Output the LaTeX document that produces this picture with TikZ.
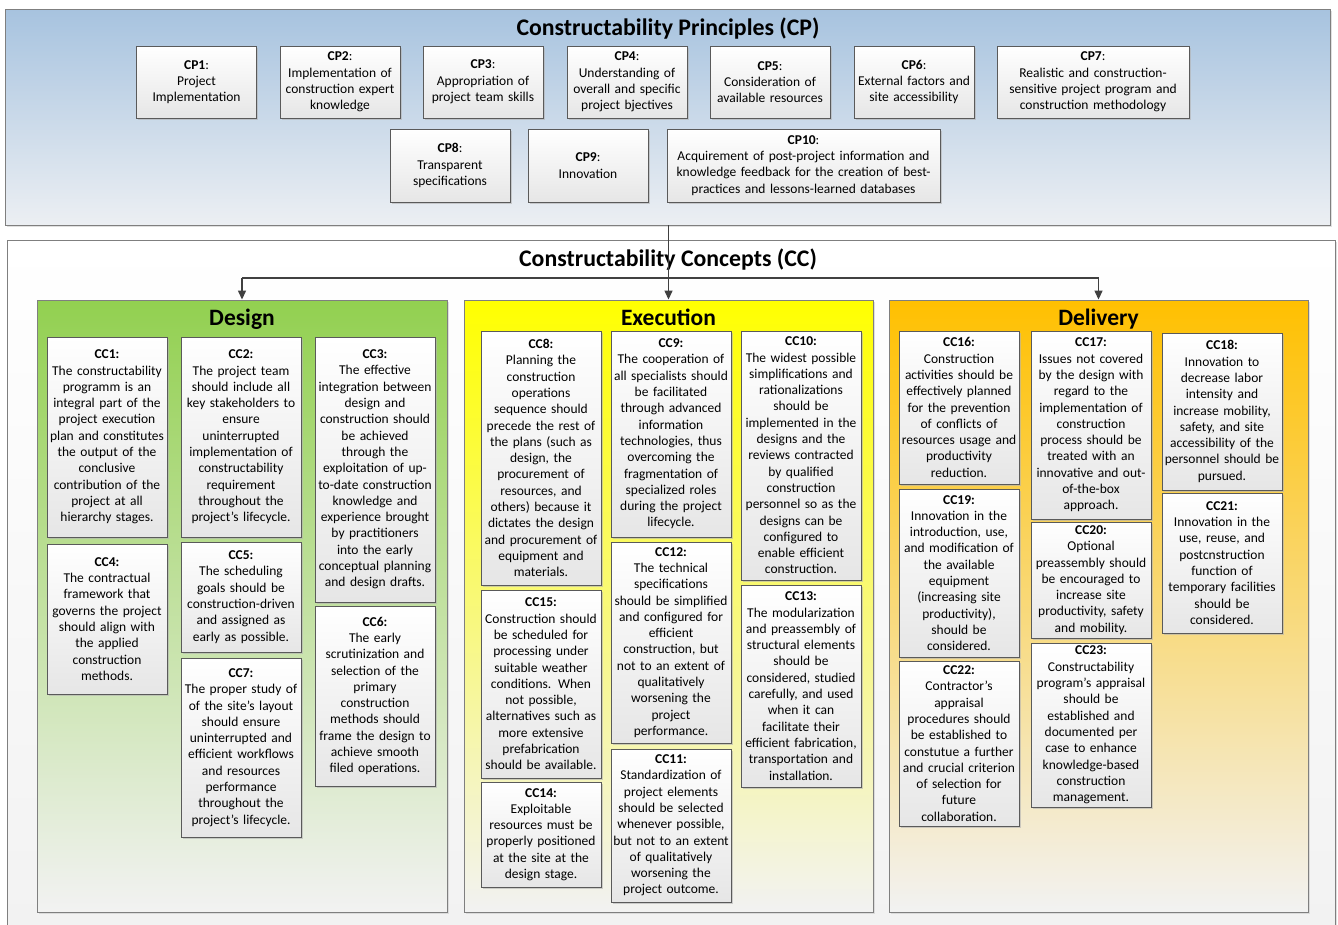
\documentclass[tikz,border=0pt]{standalone}
\usepackage{fontspec}
\setmainfont{Carlito}
\usetikzlibrary{arrows.meta,shadows}
\definecolor{linegray}{HTML}{404040}
\definecolor{boxborder}{HTML}{5A5A5A}
\definecolor{panelborder}{HTML}{7F7F7F}
\definecolor{cptop}{HTML}{A7C3DF}
\definecolor{cpbot}{HTML}{ECEFF3}
\definecolor{greentop}{HTML}{92D050}
\definecolor{yellowtop}{HTML}{FFFF00}
\definecolor{orangetop}{HTML}{FFC000}
\definecolor{panelbot}{HTML}{F2F2F2}
\definecolor{boxbot}{HTML}{E6E6E6}
\tikzset{
  ccbox/.style={draw=boxborder, line width=0.9pt, top color=white, bottom color=boxbot,
    drop shadow={shadow xshift=1.5pt, shadow yshift=-1.5pt, fill=black!30, opacity=0.6},
    minimum width=120pt, text width=118pt, inner sep=1pt, align=center,
    font=\fontsize{13.5pt}{16.3pt}\selectfont},
  panel/.style={draw=panelborder, line width=0.9pt,
    drop shadow={shadow xshift=1.5pt, shadow yshift=-1.5pt, fill=black!20, opacity=0.6}},
  ptitle/.style={anchor=base, font=\fontsize{23.8pt}{26pt}\selectfont\bfseries},
  ctitle/.style={anchor=base, font=\fontsize{23.5pt}{26pt}\selectfont\bfseries},
  conn/.style={draw=linegray, line width=1.3pt, -{Triangle[width=8pt,length=9pt]}},
  plain/.style={draw=linegray, line width=1.3pt}
}
\begin{document}
\begin{tikzpicture}[x=1pt,y=-1pt]
\useasboundingbox (0,0) rectangle (1338,924);
% panels
\node[panel, top color=cptop, bottom color=cpbot, minimum width=1325pt, minimum height=216pt] (cpp) at (667.5,117) {};
\node[panel, top color=white, bottom color=panelbot, minimum width=1328pt, minimum height=690pt] (ccp) at (671,585) {};
\node[panel, top color=greentop, bottom color=panelbot, minimum width=410pt, minimum height=612pt] (des) at (242,606) {};
\node[panel, top color=yellowtop, bottom color=panelbot, minimum width=409pt, minimum height=612pt] (exe) at (668.5,606) {};
\node[panel, top color=orangetop, bottom color=panelbot, minimum width=419pt, minimum height=612pt] (del) at (1098.5,606) {};
% titles
\node[ptitle] (cptitle) at (668,35) {Constructability Principles (CP)};
\node[ptitle] (cctitle) at (668,266) {Constructability Concepts (CC)};
\node[ctitle] (destitle) at (242,325) {Design};
\node[ctitle] (exetitle) at (668.5,325) {Execution};
\node[ctitle] (deltitle) at (1098.5,325) {Delivery};
% CP boxes
\node[ccbox, minimum height=72pt] (cp1) at (196.5,82) {\textbf{CP1}:\\Project\\Implementation};
\node[ccbox, minimum height=72pt] (cp2) at (340,82) {\textbf{CP2}:\\Implementation of\\construction expert\\knowledge};
\node[ccbox, minimum height=72pt] (cp3) at (483,82) {\textbf{CP3}:\\Appropriation of\\project team skills};
\node[ccbox, minimum height=72pt] (cp4) at (627,82) {\textbf{CP4}:\\Understanding of\\overall and specific\\project bjectives};
\node[ccbox, minimum height=72pt] (cp5) at (770,82) {\textbf{CP5}:\\Consideration of\\available resources};
\node[ccbox, minimum height=72pt] (cp6) at (914,82) {\textbf{CP6}:\\External factors and\\site accessibility};
\node[ccbox, minimum height=72pt, minimum width=192pt, text width=190pt] (cp7) at (1093,82) {\textbf{CP7}:\\Realistic and construction-\\sensitive project program and\\construction methodology};
\node[ccbox, minimum height=73pt] (cp8) at (450,165.5) {\textbf{CP8}:\\Transparent\\specifications};
\node[ccbox, minimum height=73pt] (cp9) at (588,165.5) {\textbf{CP9}:\\Innovation};
\node[ccbox, minimum height=73pt, minimum width=273pt, text width=271pt] (cp10) at (803.5,165.5) {\textbf{CP10}:\\Acquirement of post-project information and\\knowledge feedback for the creation of best-\\practices and lessons-learned databases};
% Design
\node[ccbox, minimum height=200pt] (cc1) at (107,437) {\textbf{CC1:}\\The constructability\\programm is an\\integral part of the\\project execution\\plan and constitutes\\the output of the\\conclusive\\contribution of the\\project at all\\hierarchy stages.};
\node[ccbox, minimum height=200pt] (cc2) at (241,437) {\textbf{CC2:}\\The project team\\should include all\\key stakeholders to\\ensure\\uninterrupted\\implementation of\\constructability\\requirement\\throughout the\\project’s lifecycle.};
\node[ccbox, minimum height=265pt] (cc3) at (375,469.5) {\textbf{CC3:}\\The effective\\integration between\\design and\\construction should\\be achieved\\through the\\exploitation of up-\\to-date construction\\knowledge and\\experience brought\\by practitioners\\into the early\\conceptual planning\\and design drafts.};
\node[ccbox, minimum height=150pt] (cc4) at (107,619) {\textbf{CC4:}\\The contractual\\framework that\\governs the project\\should align with\\the applied\\construction\\methods.};
\node[ccbox, minimum height=110pt] (cc5) at (241,597) {\textbf{CC5:}\\The scheduling\\goals should be\\construction-driven\\and assigned as\\early as possible.};
\node[ccbox, minimum height=180pt] (cc6) at (375,696) {\textbf{CC6:}\\The early\\scrutinization and\\selection of the\\primary\\construction\\methods should\\frame the design to\\achieve smooth\\filed operations.};
\node[ccbox, minimum height=179pt] (cc7) at (241,747.5) {\textbf{CC7:}\\The proper study of\\of the site’s layout\\should ensure\\uninterrupted and\\efficient workflows\\and resources\\performance\\throughout the\\project’s lifecycle.};
% Execution
\node[ccbox, minimum height=254pt] (cc8) at (541,458) {\textbf{CC8:}\\Planning the\\construction\\operations\\sequence should\\precede the rest of\\the plans (such as\\design, the\\procurement of\\resources, and\\others) because it\\dictates the design\\and procurement of\\equipment and\\materials.};
\node[ccbox, minimum height=206pt] (cc9) at (671,434) {\textbf{CC9:}\\The cooperation of\\all specialists should\\be facilitated\\through advanced\\information\\technologies, thus\\overcoming the\\fragmentation of\\specialized roles\\during the project\\lifecycle.};
\node[ccbox, minimum height=249pt] (cc10) at (801,455.5) {\textbf{CC10:}\\The widest possible\\simplifications and\\rationalizations\\should be\\implemented in the\\designs and the\\reviews contracted\\by qualified\\construction\\personnel so as the\\designs can be\\configured to\\enable efficient\\construction.};
\node[ccbox, minimum height=201pt] (cc12) at (671,642.5) {\textbf{CC12:}\\The technical\\specifications\\should be simplified\\and configured for\\efficient\\construction, but\\not to an extent of\\qualitatively\\worsening the\\project\\performance.};
\node[ccbox, minimum height=188pt] (cc15) at (541,684) {\textbf{CC15:}\\Construction should\\be scheduled for\\processing under\\suitable weather\\conditions. When\\not possible,\\alternatives such as\\more extensive\\prefabrication\\should be available.};
\node[ccbox, minimum height=202pt] (cc13) at (801,686) {\textbf{CC13:}\\The modularization\\and preassembly of\\structural elements\\should be\\considered, studied\\carefully, and used\\when it can\\facilitate their\\efficient fabrication,\\transportation and\\installation.};
\node[ccbox, minimum height=105pt] (cc14) at (541,834.5) {\textbf{CC14:}\\Exploitable\\resources must be\\properly positioned\\at the site at the\\design stage.};
\node[ccbox, minimum height=153pt] (cc11) at (671,825.5) {\textbf{CC11:}\\Standardization of\\project elements\\should be selected\\whenever possible,\\but not to an extent\\of qualitatively\\worsening the\\project outcome.};
% Delivery
\node[ccbox, minimum height=153pt] (cc16) at (959,407.5) {\textbf{CC16:}\\Construction\\activities should be\\effectively planned\\for the prevention\\of conflicts of\\resources usage and\\productivity\\reduction.};
\node[ccbox, minimum height=188pt] (cc17) at (1091,425) {\textbf{CC17:}\\Issues not covered\\by the design with\\regard to the\\implementation of\\construction\\process should be\\treated with an\\innovative and out-\\of-the-box\\approach.};
\node[ccbox, minimum height=157pt] (cc18) at (1222,411.5) {\textbf{CC18:}\\Innovation to\\decrease labor\\intensity and\\increase mobility,\\safety, and site\\accessibility of the\\personnel should be\\pursued.};
\node[ccbox, minimum height=168pt] (cc19) at (959,573) {\textbf{CC19:}\\Innovation in the\\introduction, use,\\and modification of\\the available\\equipment\\(increasing site\\productivity),\\should be\\considered.};
\node[ccbox, minimum height=116pt] (cc20) at (1091,580) {\textbf{CC20:}\\Optional\\preassembly should\\be encouraged to\\increase site\\productivity, safety\\and mobility.};
\node[ccbox, minimum height=140pt] (cc21) at (1222,563) {\textbf{CC21:}\\Innovation in the\\use, reuse, and\\postcnstruction\\function of\\temporary facilities\\should be\\considered.};
\node[ccbox, minimum height=165pt] (cc22) at (959,743.5) {\textbf{CC22:}\\Contractor’s\\appraisal\\procedures should\\be established to\\constutue a further\\and crucial criterion\\of selection for\\future\\collaboration.};
\node[ccbox, minimum height=164pt] (cc23) at (1091,725) {\textbf{CC23:}\\Constructability\\program’s appraisal\\should be\\established and\\documented per\\case to enhance\\knowledge-based\\construction\\management.};
% connectors
\coordinate (hl) at (242,278);
\draw[conn] (cpp.south -| exe.north) -- (exe.north);
\draw[plain] (des.north |- hl) -- (del.north |- hl);
\draw[conn] (des.north |- hl) -- (des.north);
\draw[conn] (del.north |- hl) -- (del.north);
\end{tikzpicture}
\end{document}
